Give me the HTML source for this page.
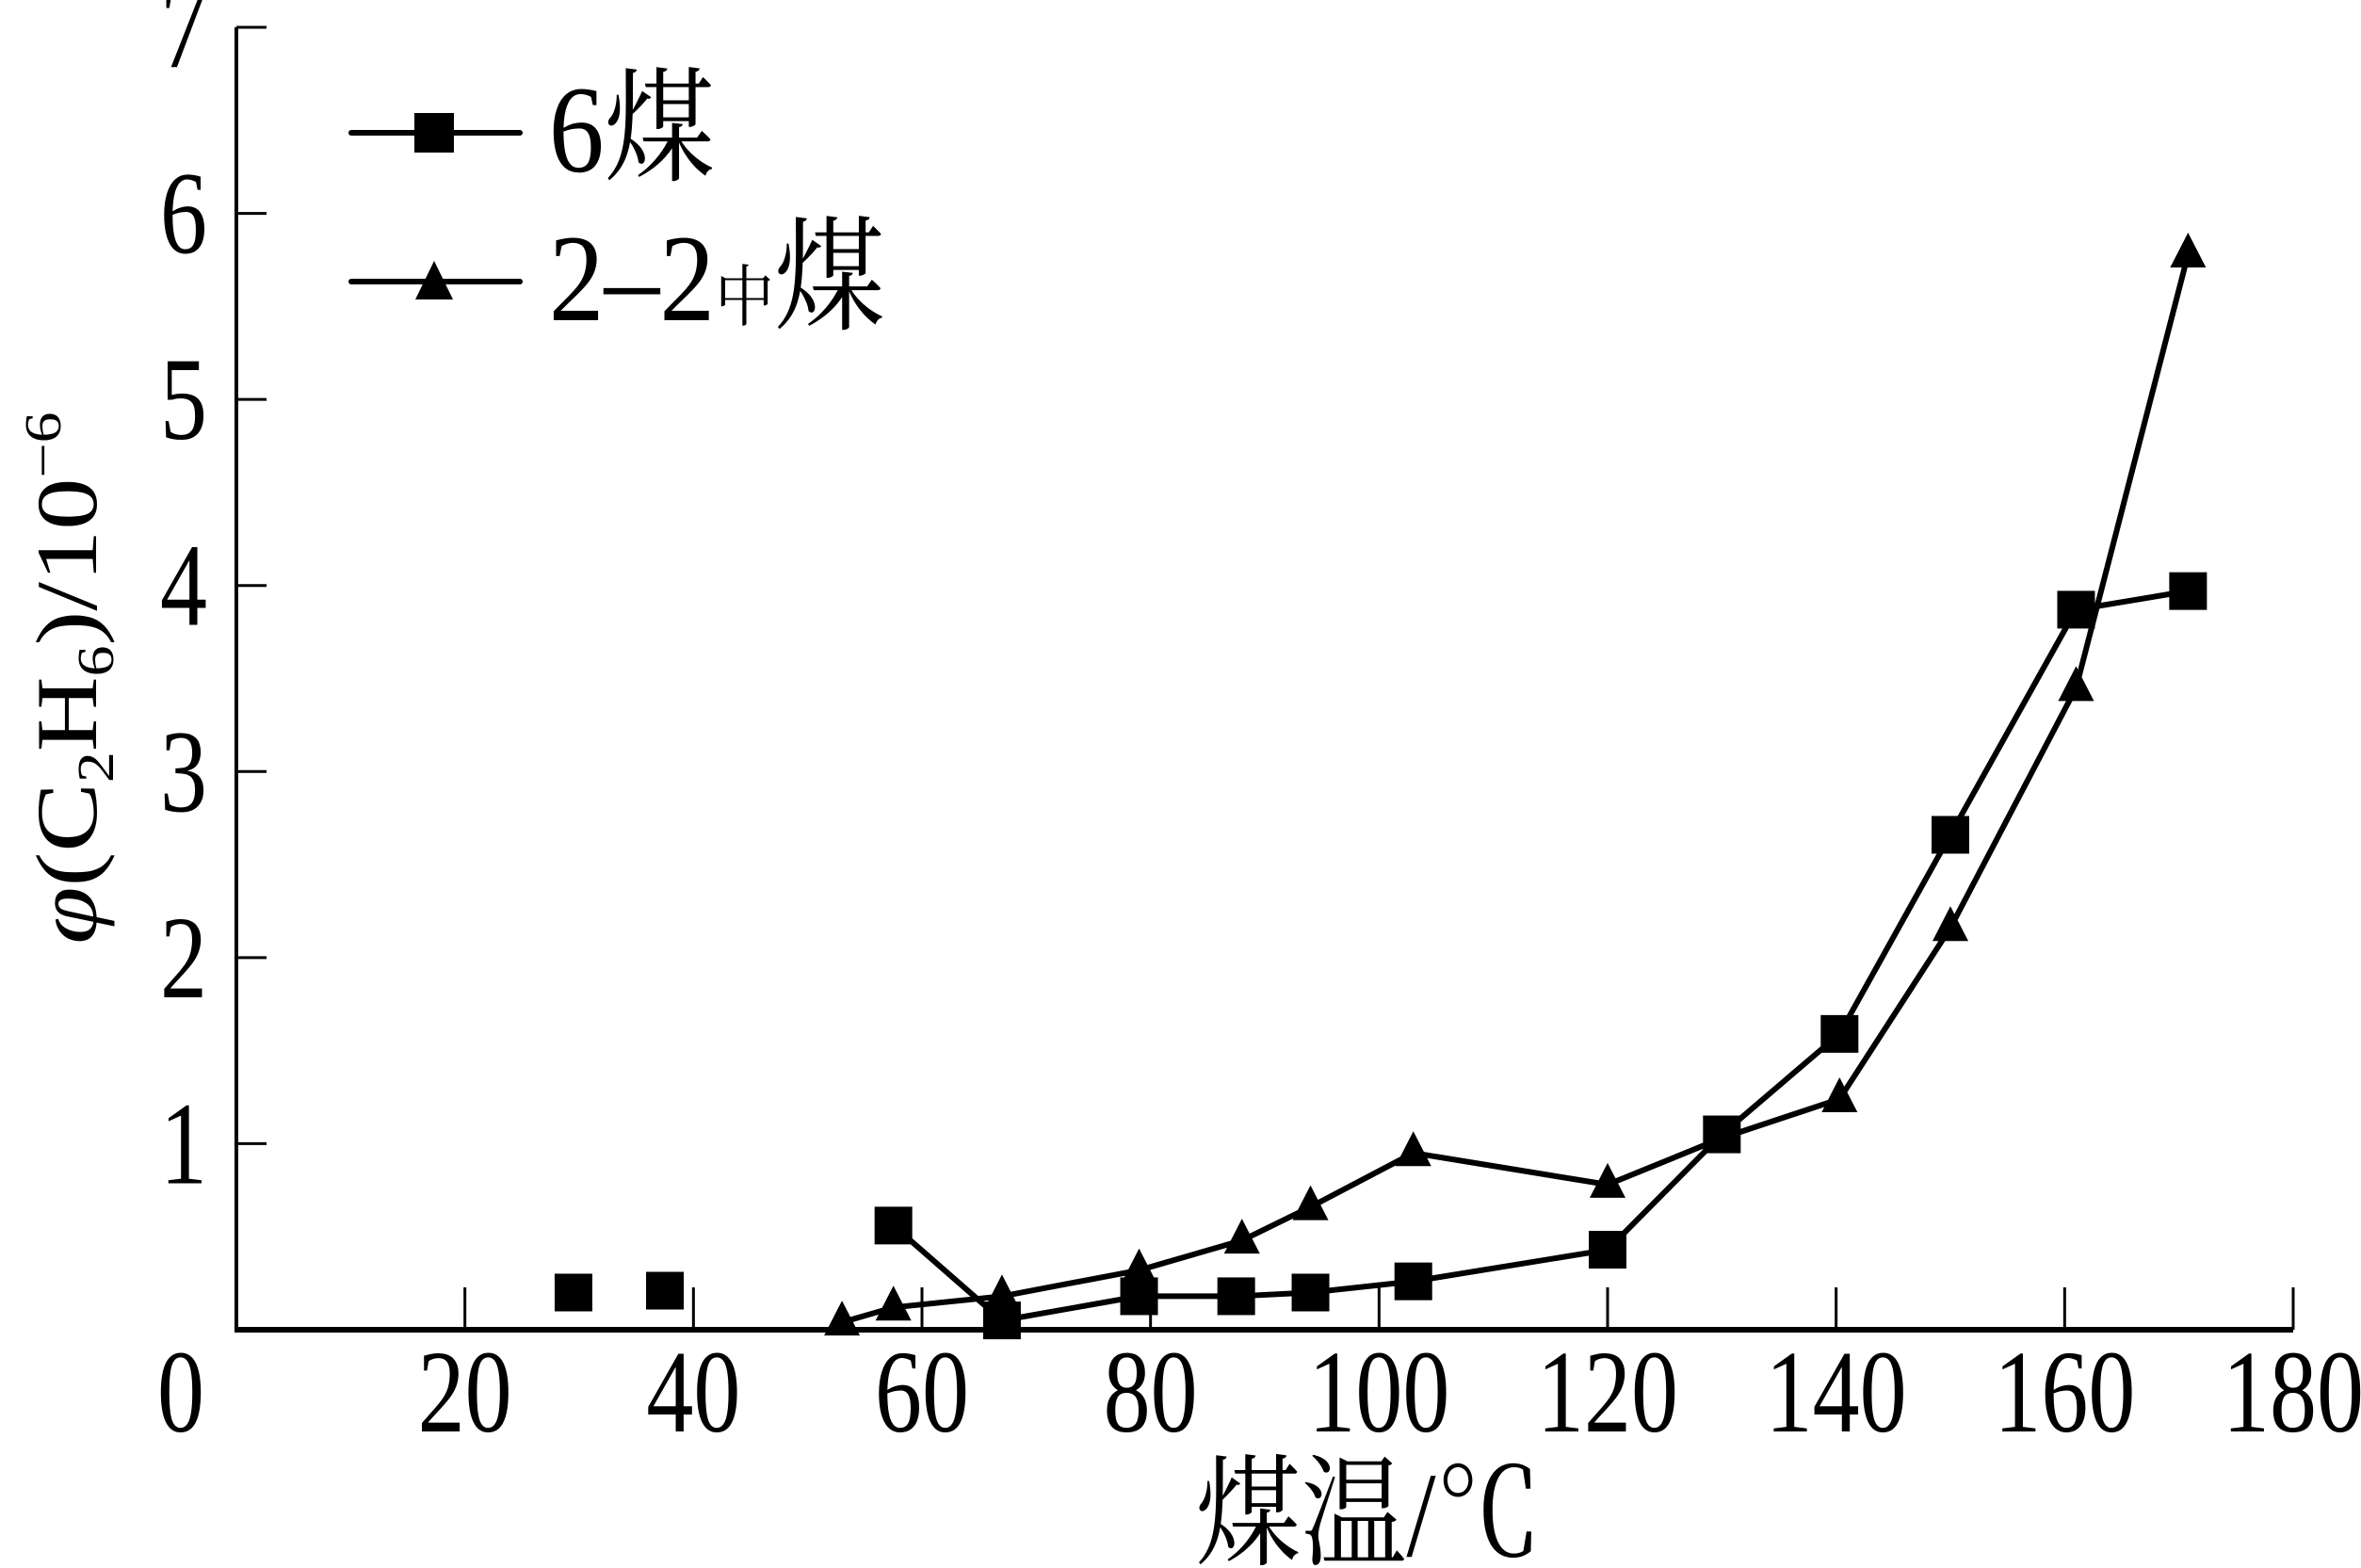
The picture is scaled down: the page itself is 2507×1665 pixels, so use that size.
<!DOCTYPE html>
<html><head><meta charset="utf-8"><style>
html,body{margin:0;padding:0;background:#fff;}
svg{display:block;}
text{font-family:"Liberation Serif","Noto Serif CJK SC","Noto Sans CJK SC",serif;fill:#000;}
</style></head><body>
<svg id="chart" width="2507" height="1665" viewBox="0 0 2507 1665" xmlns="http://www.w3.org/2000/svg">
<g id="axes"></g>
<g id="series"></g>
<g>
  <line x1="373" y1="141" x2="552" y2="141" stroke="#000" stroke-width="6" stroke-linecap="round"/>
  <rect x="440" y="120" width="42" height="42" fill="#000"/>
  <text x="555" y="0" font-size="112" transform="translate(0,182) scale(1.05,1.18)">6煤</text>
  <line x1="373" y1="299" x2="552" y2="299" stroke="#000" stroke-width="6" stroke-linecap="round"/>
  <polygon points="461,277 481,318 441,318" fill="#000"/>
  <text x="555" y="0" font-size="112" transform="translate(0,340) scale(1.05,1.18)">2–2<tspan font-size="60">中</tspan>煤</text>
</g>
<text text-anchor="middle" font-size="112" transform="translate(1453,1652) scale(1,1.15)">煤温/℃</text>
<text text-anchor="middle" font-size="92" transform="translate(102,720) rotate(-90) scale(1.2,1)"><tspan font-style="italic">φ</tspan>(C<tspan font-size="55" dy="18">2</tspan><tspan dy="-18">H</tspan><tspan font-size="55" dy="18">6</tspan><tspan dy="-18">)/10</tspan><tspan font-size="55" dy="-38">−6</tspan></text>
</svg>
<script>
const xTicks=[20,40,60,80,100,120,140,160,180];
const yTicks=[1,2,3,4,5,6,7];
const sqX=[29.5,37.5,57.5,67,79,87.5,94,103,120,130,140.3,150,161,170.8];
const sqY=[0.2,0.21,0.56,0.05,0.18,0.18,0.2,0.26,0.43,1.05,1.59,2.66,3.87,3.97];
const triX=[53,57.5,67,79,88,94,103,120,130,140.3,150,161,170.8];
const triY=[0.04,0.12,0.18,0.32,0.48,0.66,0.95,0.78,1.03,1.24,2.16,3.45,5.78];
const X0=251,X1=2435,Y0=1412,Y1=29;
const sx=v=>X0+(X1-X0)*v/180, sy=v=>Y0-(Y0-Y1)*v/7;
const NS="http://www.w3.org/2000/svg";
function mk(tag,attrs,parent){const e=document.createElementNS(NS,tag);for(const k in attrs)e.setAttribute(k,attrs[k]);parent.appendChild(e);return e;}
const ax=document.getElementById('axes'), se=document.getElementById('series');
let l=mk('line',{x1:X0,y1:Y0,x2:X1,y2:Y0,stroke:'#000','stroke-width':6},ax);


l=mk('line',{x1:X0,y1:Y0+3,x2:X0,y2:Y1,stroke:'#000','stroke-width':4},ax);


let z=mk('text',{'text-anchor':'middle','font-size':100,transform:`translate(192,1520) scale(1,1.25)`},ax);z.textContent='0';


xTicks.forEach(v=>{
  const t=mk('line',{x1:sx(v),y1:Y0,x2:sx(v),y2:Y0-45,stroke:'#000','stroke-width':3},ax);
  
  
  const tx=mk('text',{'text-anchor':'middle','font-size':100,transform:`translate(${sx(v)},1520) scale(1,1.25)`},ax);
  tx.textContent=v;
  
  
});
yTicks.forEach(v=>{
  const t=mk('line',{x1:X0,y1:sy(v),x2:X0+32,y2:sy(v),stroke:'#000','stroke-width':3},ax);
  
  
  const tx=mk('text',{'text-anchor':'end','font-size':100,transform:`translate(220,${sy(v)+42}) scale(1,1.25)`},ax);
  tx.textContent=v;
  
  
});
let pts=sqX.slice(2).map((x,i)=>sx(x)+','+sy(sqY[i+2])).join(' ');
let pl=mk('polyline',{points:pts,fill:'none',stroke:'#000','stroke-width':6},se);


pts=triX.map((x,i)=>sx(x)+','+sy(triY[i])).join(' ');
pl=mk('polyline',{points:pts,fill:'none',stroke:'#000','stroke-width':6},se);


sqX.forEach((x,i)=>{
  const r=mk('rect',{x:sx(x)-20,y:sy(sqY[i])-20,width:40,height:40,fill:'#000'},se);
  
  
});
triX.forEach((x,i)=>{
  const cx=sx(x),cy=sy(triY[i]);
  const p=mk('polygon',{points:`${cx},${cy-23} ${cx+19},${cy+14} ${cx-19},${cy+14}`,fill:'#000'},se);
  
  
});
</script>
</body></html>
